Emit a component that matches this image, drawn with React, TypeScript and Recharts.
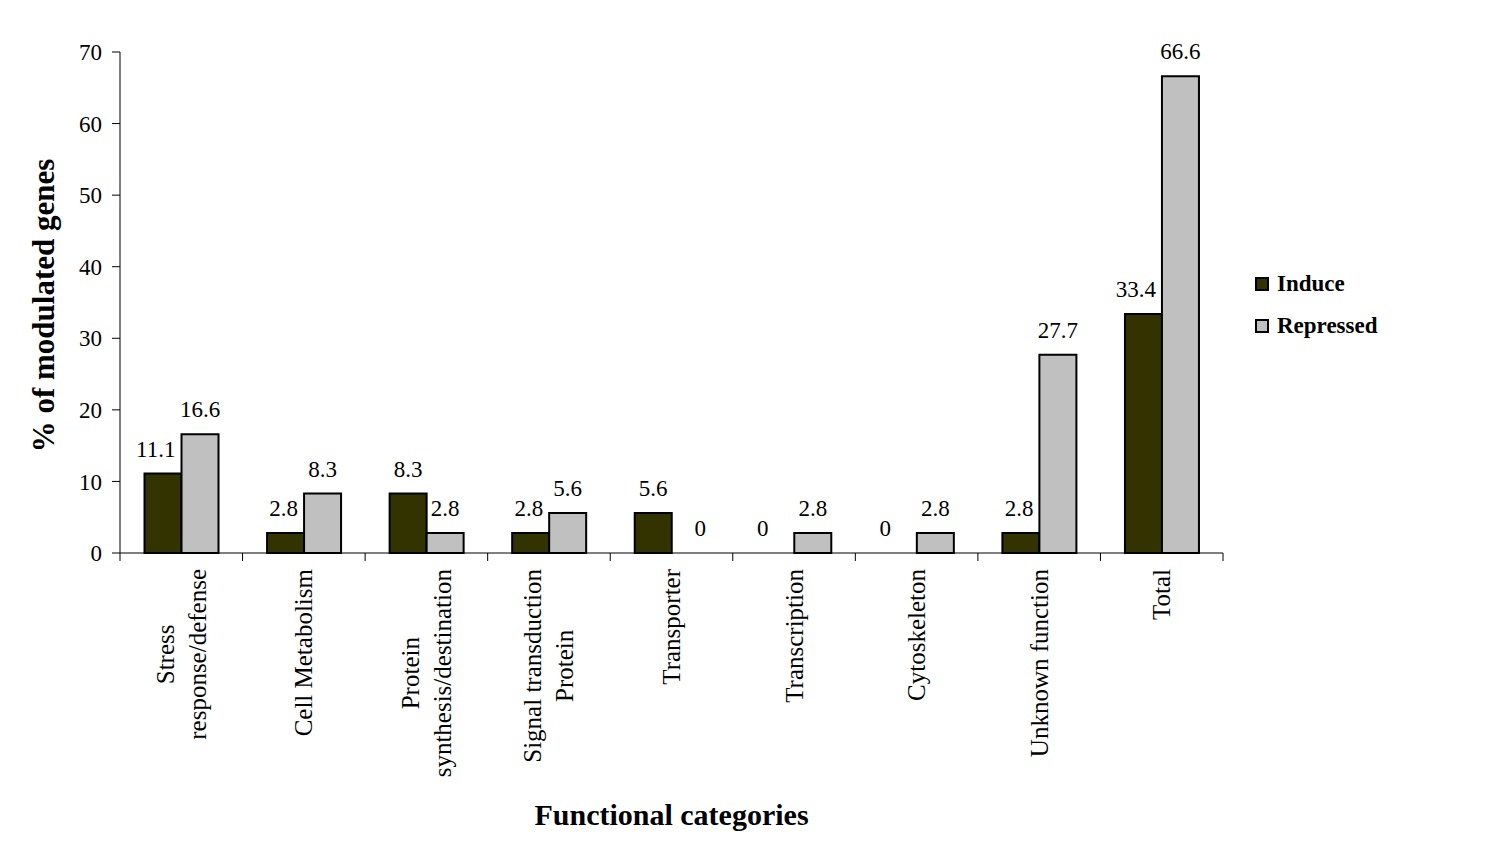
import { BarChart, Bar, XAxis, YAxis, Legend, LabelList } from 'recharts';

const categories = [
  'Stress\nresponse/defense',
  'Cell Metabolism',
  'Protein\nsynthesis/destination',
  'Signal transduction\nProtein',
  'Transporter',
  'Transcription',
  'Cytoskeleton',
  'Unknown function',
  'Total',
];
const induce = [11.1, 2.8, 8.3, 2.8, 5.6, 0, 0, 2.8, 33.4];
const repressed = [16.6, 8.3, 2.8, 5.6, 0, 2.8, 2.8, 27.7, 66.6];
const yTicks = [0, 10, 20, 30, 40, 50, 60, 70];

const data = categories.map((category, i) => ({
  category,
  induce: induce[i],
  repressed: repressed[i],
}));

const FONT = '"Liberation Serif", "Times New Roman", serif';
const W = 1487;
const H = 850;
const MARGIN = { top: 44, right: 272, bottom: 40, left: 20 };
const Y_AXIS_W = 92;
const X_AXIS_H = H - MARGIN.top - MARGIN.bottom - 501;
const PLOT_LEFT = MARGIN.left + Y_AXIS_W;
const BAND = (W - PLOT_LEFT - MARGIN.right) / categories.length;

let ctx: CanvasRenderingContext2D | null = null;
const measure = (s: string, font: string) => {
  if (!ctx) ctx = document.createElement('canvas').getContext('2d');
  if (!ctx) return s.length * 10;
  ctx.font = font;
  return ctx.measureText(s).width;
};

const CategoryTick = (props: any) => {
  const { x, y, payload, index } = props;
  const axisY = y - 8;
  const half = BAND / 2;
  const lines = String(payload.value).split('\n');
  const maxW = Math.max(...lines.map((l) => measure(l, `25px ${FONT}`)));
  const cy = axisY + 16 + maxW / 2;
  return (
    <g>
      <line x1={x - half} x2={x - half} y1={axisY} y2={axisY + 8} stroke="#000" />
      {index === categories.length - 1 && (
        <line x1={x + half} x2={x + half} y1={axisY} y2={axisY + 8} stroke="#000" />
      )}
      {lines.map((l, i) => {
        const lx = x + (i - (lines.length - 1) / 2) * 32;
        return (
          <text
            key={i}
            x={lx}
            y={cy}
            transform={`rotate(-90 ${lx} ${cy})`}
            textAnchor="middle"
            dominantBaseline="central"
            fontSize={25}
            fontFamily={FONT}
            fill="#000"
          >
            {l}
          </text>
        );
      })}
    </g>
  );
};

const labelText = (x: number, y: number, v: number, anchor: string, key: string) => (
  <text key={key} x={x} y={y} textAnchor={anchor} fontSize={23} fontFamily={FONT} fill="#000">
    {String(v)}
  </text>
);

// value labels; zero-height bars get no label entry of their own, so the
// neighbouring bar of the pair draws the "0" in the empty slot
const makeBarLabel = (series: 'induce' | 'repressed') => (p: any) => {
  const { x, y, width, height, value } = p;
  const idx = Math.floor((x + width / 2 - PLOT_LEFT) / BAND);
  const v = Number(value);
  const base = y + height;
  const out: any[] = [];
  if (v !== 0) {
    if (series === 'induce' && repressed[idx] > v) {
      out.push(labelText(x + width - 6, y - 17, v, 'end', 'own'));
    } else {
      out.push(labelText(x + width / 2, y - 17, v, 'middle', 'own'));
    }
  }
  if (series === 'induce' && repressed[idx] === 0) {
    out.push(labelText(x + width * 1.5 + 10, base - 17, 0, 'middle', 'zero'));
  }
  if (series === 'repressed' && induce[idx] === 0) {
    out.push(labelText(x - width / 2 - 13, base - 17, 0, 'middle', 'zero'));
  }
  return <g>{out}</g>;
};

const LegendContent = (props: any) => {
  const { payload } = props;
  return (
    <div style={{ fontFamily: FONT, fontWeight: 'bold', fontSize: 23 }}>
      {(payload || []).map((p: any) => (
        <div key={p.value} style={{ display: 'flex', alignItems: 'center', height: 42 }}>
          <span
            style={{
              display: 'inline-block',
              width: 10,
              height: 10,
              border: '2px solid #000',
              background: p.color,
              marginRight: 8,
            }}
          />
          <span>{p.value}</span>
        </div>
      ))}
    </div>
  );
};

export default function App() {
  return (
    <div style={{ width: W, height: H }}>
      <BarChart width={W} height={H} data={data} margin={MARGIN} barCategoryGap="20%" barGap={0}>
        <XAxis
          dataKey="category"
          interval={0}
          tickLine={false}
          tickSize={8}
          tickMargin={0}
          height={X_AXIS_H}
          axisLine={{ stroke: '#000' }}
          tick={<CategoryTick />}
          label={{
            content: (p: any) => {
              const vb = p.viewBox;
              return (
                <text
                  x={vb.x + vb.width / 2}
                  y={vb.y + 261}
                  textAnchor="middle"
                  dominantBaseline="central"
                  fontSize={30}
                  fontWeight="bold"
                  fontFamily={FONT}
                  fill="#000"
                >
                  Functional categories
                </text>
              );
            },
          }}
        />
        <YAxis
          width={Y_AXIS_W}
          domain={[0, 70]}
          ticks={yTicks}
          interval={0}
          tickSize={8}
          tickMargin={10}
          axisLine={{ stroke: '#000' }}
          tickLine={{ stroke: '#000' }}
          tick={{ fill: '#000', fontSize: 23, fontFamily: FONT }}
          label={{
            content: (p: any) => {
              const vb = p.viewBox;
              const cx = 35;
              const cy = vb.y + vb.height / 2 + 3;
              return (
                <text
                  x={cx}
                  y={cy}
                  transform={`rotate(-90 ${cx} ${cy})`}
                  textAnchor="middle"
                  dominantBaseline="central"
                  fontSize={31}
                  fontWeight="bold"
                  fontFamily={FONT}
                  fill="#000"
                >
                  % of modulated genes
                </text>
              );
            },
          }}
        />
        <Legend
          layout="vertical"
          align="center"
          verticalAlign="middle"
          content={<LegendContent />}
          wrapperStyle={{ position: 'absolute', left: 1247, top: 255, width: 'auto' }}
        />
        <Bar dataKey="induce" name="Induce" fill="#333300" stroke="#000" strokeWidth={2} isAnimationActive={false}>
          <LabelList dataKey="induce" content={makeBarLabel('induce')} />
        </Bar>
        <Bar dataKey="repressed" name="Repressed" fill="#C0C0C0" stroke="#000" strokeWidth={2} isAnimationActive={false}>
          <LabelList dataKey="repressed" content={makeBarLabel('repressed')} />
        </Bar>
      </BarChart>
    </div>
  );
}
